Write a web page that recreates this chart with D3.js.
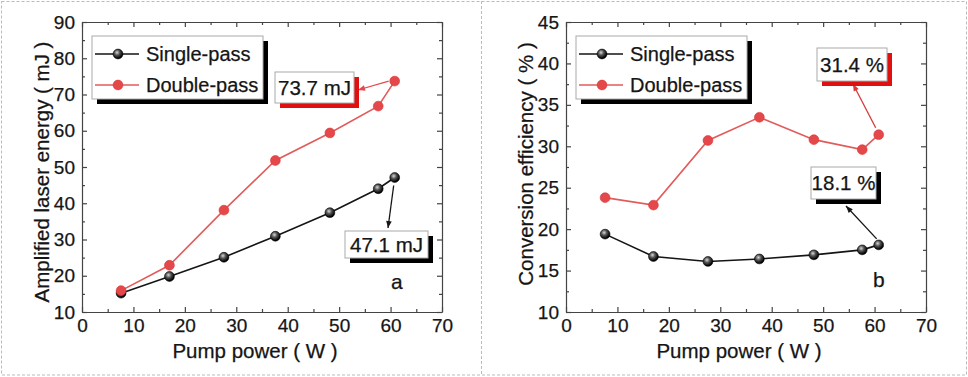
<!DOCTYPE html>
<html>
<head>
<meta charset="utf-8">
<script src="https://cdn.jsdelivr.net/npm/d3@7"></script>
<style>
  html, body { margin: 0; padding: 0; background: #fff; }
  svg { display: block; font-family: "Liberation Sans", Arial, sans-serif; }
  text { stroke: #151515; stroke-width: 0.25px; }
</style>
</head>
<body>
<svg id="chart" width="968" height="377"></svg>
<script>
// data
const pumpPower = [7.6, 17.0, 27.6, 37.6, 48.2, 57.6, 60.8];
const singleEnergy = [15.2, 19.8, 25.1, 30.9, 37.4, 44.0, 47.1];
const doubleEnergy = [15.9, 22.9, 38.1, 51.8, 59.4, 66.8, 73.7];
const singleEff = [19.4, 16.7, 16.1, 16.4, 16.9, 17.5, 18.1];
const doubleEff = [23.8, 22.9, 30.7, 33.5, 30.8, 29.6, 31.4];

const xTicks = [0, 10, 20, 30, 40, 50, 60, 70];
const energyTicks = [10, 20, 30, 40, 50, 60, 70, 80, 90];
const effTicks = [10, 15, 20, 25, 30, 35, 40, 45];
const seriesNames = ["Single-pass", "Double-pass"];

const red = "#e5484a";
const redLine = "#e25b5b";
const ink = "#151515";

const svg = d3.select("#chart");

const defs = svg.append("defs");
const grad = defs.append("radialGradient").attr("id", "ball")
    .attr("cx", "40%").attr("cy", "35%").attr("r", "60%");
grad.append("stop").attr("offset", "0%").attr("stop-color", "#d8d8d8");
grad.append("stop").attr("offset", "45%").attr("stop-color", "#555");
grad.append("stop").attr("offset", "100%").attr("stop-color", "#000");

// dashed page borders
svg.append("rect").attr("x", 1.5).attr("y", 1.5).attr("width", 965).attr("height", 373.5)
    .attr("fill", "none").attr("stroke", "#bbb").attr("stroke-dasharray", "3,2");
svg.append("line").attr("x1", 481.5).attr("x2", 481.5).attr("y1", 1).attr("y2", 376)
    .attr("stroke", "#bbb").attr("stroke-dasharray", "3,2");

const plotL = 82, plotR = 442, plotT = 22, plotB = 312;

function drawPanel(cfg) {
    const g = svg.append("g").attr("transform", `translate(${cfg.dx},0)`);

    const x = d3.scaleLinear().domain([0, 70]).range([plotL, plotR]);
    const y = d3.scaleLinear().domain(cfg.yDomain).range([plotB, plotT]);

    const minorX = d3.range(5, 70, 10);
    const step = cfg.yTicks[1] - cfg.yTicks[0];
    const minorY = d3.range(cfg.yDomain[0] + step / 2, cfg.yDomain[1], step);

    const axes = [
        [d3.axisBottom(x).tickValues(xTicks), d3.axisBottom(x).tickValues(minorX), `translate(0,${plotB})`, true],
        [d3.axisTop(x).tickValues(xTicks), d3.axisTop(x).tickValues(minorX), `translate(0,${plotT})`, false],
        [d3.axisLeft(y).tickValues(cfg.yTicks), d3.axisLeft(y).tickValues(minorY), `translate(${plotL},0)`, true],
        [d3.axisRight(y).tickValues(cfg.yTicks), d3.axisRight(y).tickValues(minorY), `translate(${plotR},0)`, false]
    ];
    axes.forEach(([major, minor, tr, labels]) => {
        const a = g.append("g").attr("transform", tr)
            .call(major.tickSize(-5).tickSizeOuter(0).tickPadding(7).tickFormat(labels ? d3.format("d") : ""));
        a.select(".domain").attr("stroke", "#444").attr("stroke-width", 1.2);
        a.selectAll(".tick line").attr("stroke", "#444").attr("stroke-width", 1.2);
        a.selectAll("text").attr("fill", ink).style("font-size", "19px");
        a.attr("font-family", null);
        const m = g.append("g").attr("transform", tr)
            .call(minor.tickSize(-3).tickSizeOuter(0).tickFormat(""));
        m.select(".domain").remove();
        m.selectAll(".tick line").attr("stroke", "#444").attr("stroke-width", 1.2);
    });

    // axis titles
    g.append("text").attr("x", 255).attr("y", 358).attr("text-anchor", "middle")
        .attr("fill", ink).style("font-size", "20.5px").text("Pump power ( W )");
    g.append("text").attr("transform", `translate(49,${cfg.yTitleCenter}) rotate(-90)`)
        .attr("text-anchor", "middle").attr("fill", ink).style("font-size", "20.5px").text(cfg.yTitle);

    const line = d3.line().x(d => x(d[0])).y(d => y(d[1]));

    const series = [
        { vals: cfg.single, color: ink, marker: "url(#ball)", stroke: "#000" },
        { vals: cfg.double, color: redLine, marker: red, stroke: "#d33" }
    ];

    // annotation arrows first (under markers)
    cfg.notes.forEach(n => {
        const px = x(pumpPower[6]), py = y(n.value);
        const x1 = px + n.from[0], y1 = py + n.from[1];
        const x2 = n.tip[0], y2 = n.tip[1];
        g.append("line").attr("x1", x1).attr("y1", y1).attr("x2", x2).attr("y2", y2)
            .attr("stroke", n.color).attr("stroke-width", 1.3);
        const ang = Math.atan2(y2 - y1, x2 - x1);
        const L = 7, W = 2.8;
        const bx = x2 - L * Math.cos(ang), by = y2 - L * Math.sin(ang);
        g.append("path")
            .attr("d", `M${x2},${y2}L${bx - W * Math.sin(ang)},${by + W * Math.cos(ang)}L${bx + W * Math.sin(ang)},${by - W * Math.cos(ang)}Z`)
            .attr("fill", n.color);
    });

    series.forEach(s => {
        const pts = pumpPower.map((p, i) => [p, s.vals[i]]);
        g.append("path").datum(pts).attr("d", line)
            .attr("fill", "none").attr("stroke", s.color).attr("stroke-width", 1.6);
        g.selectAll(null).data(pts).enter().append("circle")
            .attr("cx", d => x(d[0])).attr("cy", d => y(d[1])).attr("r", 4.9)
            .attr("fill", s.marker).attr("stroke", s.stroke).attr("stroke-width", 0.6);
    });

    // annotation boxes
    cfg.notes.forEach(n => {
        const [bx, by, bw, bh] = n.box;
        g.append("rect").attr("x", bx + 5).attr("y", by + 5).attr("width", bw).attr("height", bh)
            .attr("fill", n.shadow);
        g.append("rect").attr("x", bx).attr("y", by).attr("width", bw).attr("height", bh)
            .attr("fill", "#fff").attr("stroke", "#aaa").attr("stroke-width", 1);
        g.append("text").attr("x", bx + bw / 2).attr("y", by + bh / 2 + 7)
            .attr("text-anchor", "middle").attr("fill", ink).style("font-size", "20.5px").text(n.label);
    });

    // legend
    const lg = g.append("g");
    lg.append("rect").attr("x", 97).attr("y", 41).attr("width", 171).attr("height", 63).attr("fill", "#000");
    lg.append("rect").attr("x", 92).attr("y", 36).attr("width", 171).attr("height", 63)
        .attr("fill", "#fff").attr("stroke", "#aaa").attr("stroke-width", 1);
    series.forEach((s, i) => {
        const ly = 54 + i * 31;
        lg.append("line").attr("x1", 95).attr("x2", 139).attr("y1", ly).attr("y2", ly)
            .attr("stroke", s.color).attr("stroke-width", 1.6);
        lg.append("circle").attr("cx", 118).attr("cy", ly).attr("r", 4.9)
            .attr("fill", s.marker).attr("stroke", s.stroke).attr("stroke-width", 0.6);
        lg.append("text").attr("x", 146).attr("y", ly + 7).attr("fill", ink)
            .style("font-size", "20px").text(seriesNames[i]);
    });

    g.append("text").attr("x", cfg.letter[0]).attr("y", cfg.letter[1]).attr("fill", ink)
        .style("font-size", "21px").text(cfg.letterText);
}

drawPanel({
    dx: 0,
    yDomain: [10, 90], yTicks: energyTicks,
    single: singleEnergy, double: doubleEnergy,
    yTitle: "Amplified laser energy ( mJ )", yTitleCenter: 172,
    letter: [391, 289], letterText: "a",
    notes: [
        { value: doubleEnergy[6], label: "73.7 mJ", color: red, shadow: "#e01010",
          box: [275, 72, 79, 31], from: [-6, 0], tip: [358, 90] },
        { value: singleEnergy[6], label: "47.1 mJ", color: ink, shadow: "#000",
          box: [345, 231, 83, 27], from: [-1, 8], tip: [388, 228] }
    ]
});

drawPanel({
    dx: 484,
    yDomain: [10, 45], yTicks: effTicks,
    single: singleEff, double: doubleEff,
    yTitle: "Conversion efficiency ( % )", yTitleCenter: 164,
    letter: [389, 287], letterText: "b",
    notes: [
        { value: doubleEff[6], label: "31.4 %", color: "#d63a3a", shadow: "#e01010",
          box: [333, 48, 70, 33], from: [-3, -7], tip: [369, 84] },
        { value: singleEff[6], label: "18.1 %", color: ink, shadow: "#000",
          box: [327, 167, 65, 32], from: [-2, -6], tip: [362, 206] }
    ]
});
</script>
</body>
</html>
